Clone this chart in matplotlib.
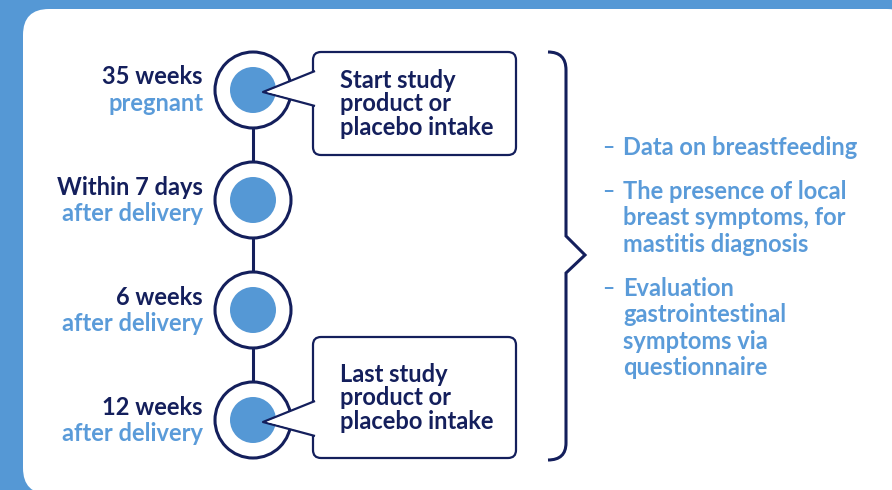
import matplotlib.pyplot as plt
from matplotlib.patches import Circle, FancyBboxPatch, Polygon, PathPatch
from matplotlib.path import Path

NAVY = "#141f5c"
BLUE = "#5598d5"
TEXT_BLUE = "#5a9bd9"

# Timeline steps (top to bottom)
step_titles = ["35 weeks", "Within 7 days", "6 weeks", "12 weeks"]
step_subtitles = ["pregnant", "after delivery", "after delivery", "after delivery"]

# Callouts attached to steps (step index -> lines)
callout_steps = [0, 3]
callout_lines = [
    ["Start study", "product or", "placebo intake"],
    ["Last study", "product or", "placebo intake"],
]

# Outcome bullets (each item split into lines)
bullets = [
    ["Data on breastfeeding"],
    ["The presence of local", "breast symptoms, for", "mastitis diagnosis"],
    ["Evaluation", "gastrointestinal", "symptoms via", "questionnaire"],
]

plt.rcParams["font.family"] = ["Lato", "DejaVu Sans"]
FS = 17

fig = plt.figure(figsize=(8.92, 4.90), dpi=100, facecolor=BLUE)
ax = fig.add_axes([0, 0, 1, 1])
ax.set_xlim(0, 892)
ax.set_ylim(490, 0)
ax.axis("off")
ax.set_facecolor(BLUE)

# white panel
ax.add_patch(FancyBboxPatch((23, 9), 890, 485, boxstyle="round,pad=0,rounding_size=26",
                            facecolor="white", edgecolor="none"))

cx = 253
y0, dy = 90, 110
r_out, r_in = 38, 23
ys = [y0 + dy * i for i in range(len(step_titles))]

# connector
ax.plot([cx, cx], [ys[0], ys[-1]], color=NAVY, lw=2.2, zorder=1)

for y, t, s in zip(ys, step_titles, step_subtitles):
    ax.add_patch(Circle((cx, y), r_out, facecolor="white", edgecolor=NAVY, lw=2.2, zorder=2))
    ax.add_patch(Circle((cx, y), r_in, facecolor=BLUE, edgecolor="none", zorder=3))
    ax.text(203, y - 13, t, ha="right", va="center", fontsize=FS, fontweight="bold", color=NAVY)
    ax.text(203, y + 13, s, ha="right", va="center", fontsize=FS, fontweight="bold", color=TEXT_BLUE)

# callouts
box_x, box_w = 313, 203
for idx, lines in zip(callout_steps, callout_lines):
    y = ys[idx]
    if idx == 0:
        top, h = 52, 103
    else:
        top, h = 337, 121
    ax.add_patch(FancyBboxPatch((box_x, top), box_w, h, boxstyle="round,pad=0,rounding_size=8",
                                facecolor="white", edgecolor=NAVY, lw=1.6, zorder=4))
    ptr = Polygon([(box_x + 2, y - 19), (cx + 10, y + 2), (box_x + 2, y + 16)], closed=False,
                  facecolor="white", edgecolor=NAVY, lw=1.6, zorder=5, joinstyle="round")
    ax.add_patch(ptr)
    ax.add_patch(Polygon([(box_x + 3, y - 17), (cx + 14, y + 2), (box_x + 3, y + 14)],
                         facecolor="white", edgecolor="none", zorder=6))
    mid = top + h / 2
    for k, line in enumerate(lines):
        ax.text(340, mid + (k - 1) * 23.5, line, ha="left", va="center", fontsize=FS,
                fontweight="bold", color=NAVY, zorder=7)

# brace
verts = [(548, 52), (566, 52), (566, 70), (566, 236), (585, 255), (566, 273),
         (566, 443), (566, 460), (548, 460)]
codes = [Path.MOVETO, Path.CURVE3, Path.CURVE3, Path.LINETO, Path.LINETO, Path.LINETO,
         Path.LINETO, Path.CURVE3, Path.CURVE3]
ax.add_patch(PathPatch(Path(verts, codes), facecolor="none", edgecolor=NAVY, lw=2.2))

# bullets
yb = 147
for item in bullets:
    ax.text(602, yb, "–", ha="left", va="center", fontsize=FS - 2, fontweight="bold", color=TEXT_BLUE)
    for k, line in enumerate(item):
        ax.text(623, yb + k * 26.5, line, ha="left", va="center", fontsize=FS,
                fontweight="bold", color=TEXT_BLUE)
    yb += len(item) * 26.5 + 17.5

plt.savefig("out.png", dpi=100, facecolor=BLUE)
